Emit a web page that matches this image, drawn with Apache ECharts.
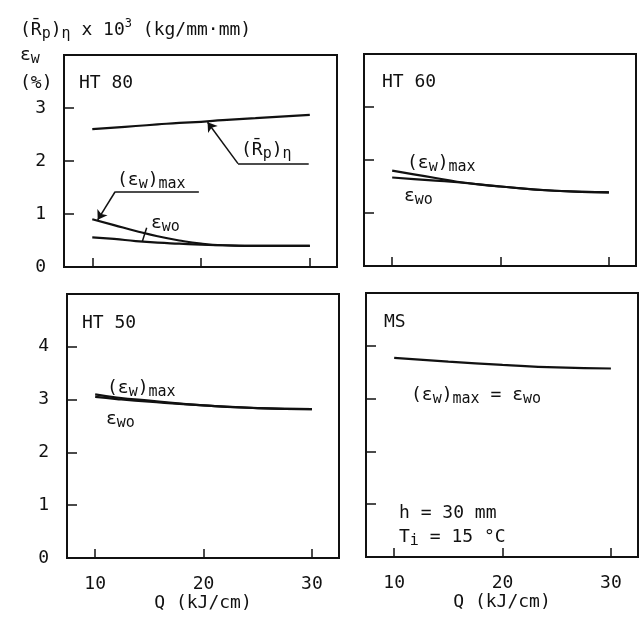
<!DOCTYPE html>
<html><head><meta charset="utf-8">
<script src="https://cdn.jsdelivr.net/npm/echarts@6/dist/echarts.min.js"></script>
<style>html,body{margin:0;padding:0;background:#fff}#c{width:644px;height:619px}</style>
</head><body><div id="c"></div>
<script>
// ---- data (Q in kJ/cm) ----
const qHT80 = [10, 12, 14, 16, 18, 20, 22, 25, 30];
const ht80Rp  = [2.60, 2.63, 2.66, 2.69, 2.72, 2.74, 2.77, 2.81, 2.87];
const ht80Max = [0.90, 0.79, 0.68, 0.58, 0.50, 0.44, 0.41, 0.40, 0.40];
const ht80Wo  = [0.56, 0.53, 0.49, 0.46, 0.44, 0.42, 0.41, 0.40, 0.40];

const qHT60 = [10, 12, 14, 16, 20, 25, 30];
const ht60Max = [1.80, 1.73, 1.66, 1.59, 1.50, 1.42, 1.39];
const ht60Wo  = [1.67, 1.64, 1.61, 1.58, 1.50, 1.42, 1.39];

const qHT50 = [10, 12, 15, 20, 25, 30];
const ht50Max = [3.10, 3.04, 2.98, 2.89, 2.84, 2.82];
const ht50Wo  = [3.05, 3.01, 2.96, 2.89, 2.84, 2.82];

const qMS = [10, 15, 20, 25, 30];
const msVal = [3.77, 3.70, 3.64, 3.59, 3.57];

const xTicks = [10, 20, 30];
const yTicksTop = [1, 2, 3];
const yLabelsTop = [0, 1, 2, 3];
const yTicksBottom = [1, 2, 3, 4];
const yLabelsBottom = [0, 1, 2, 3, 4];

// ---- styling ----
const F = '"DejaVu Sans Mono", monospace';
const INK = '#111';
const rich = {
  n: {fontSize: 18, fontFamily: F, lineHeight: 24, color: INK},
  s: {fontSize: 15, fontFamily: F, lineHeight: 15, color: INK, verticalAlign: 'bottom'},
  u: {fontSize: 12, fontFamily: F, lineHeight: 12, color: INK, verticalAlign: 'top'}
};
const pair = (xs, ys) => xs.map((x, i) => [x, ys[i]]);

function xAx(gi, labels) {
  return {
    type: 'value', gridIndex: gi, min: 7.4, max: 32.5,
    axisLine: {show: false}, splitLine: {show: false},
    axisTick: {show: true, inside: true, length: 9, customValues: xTicks, lineStyle: {color: INK, width: 1.5}},
    axisLabel: {show: labels, customValues: xTicks, margin: 17, fontSize: 18, fontFamily: F, color: INK},
    name: labels ? 'Q (kJ/cm)' : '', nameLocation: 'middle', nameGap: 36,
    nameTextStyle: {fontSize: 18, fontFamily: F, color: INK}
  };
}
function yAx(gi, max, ticks, labels) {
  return {
    type: 'value', gridIndex: gi, min: 0, max: max,
    axisLine: {show: false}, splitLine: {show: false},
    axisTick: {show: true, inside: true, length: 10, customValues: ticks, lineStyle: {color: INK, width: 1.5}},
    axisLabel: {show: !!labels, customValues: labels || [], margin: 18, fontSize: 18, fontFamily: F, color: INK}
  };
}
const line = (xi, data, name, extra) => Object.assign({
  type: 'line', name: name, xAxisIndex: xi, yAxisIndex: xi, data: data,
  smooth: true, showSymbol: false, symbol: 'none', silent: true,
  lineStyle: {color: INK, width: 2.2}
}, extra || {});

const gridBase = {show: true, borderColor: INK, borderWidth: 2, backgroundColor: 'transparent'};

const arrowLines = {
  silent: true, label: {show: false}, symbolSize: 9,
  lineStyle: {color: INK, width: 1.5, type: 'solid'},
  data: [
    [{coord: [29.9, 1.95], symbol: 'none'}, {coord: [23.4, 1.95], symbol: 'none'}],
    [{coord: [23.4, 1.95], symbol: 'none'}, {coord: [20.6, 2.73], symbol: 'arrow'}],
    [{coord: [19.8, 1.42], symbol: 'none'}, {coord: [12.1, 1.42], symbol: 'none'}],
    [{coord: [12.1, 1.42], symbol: 'none'}, {coord: [10.5, 0.89], symbol: 'arrow'}],
    [{coord: [15.0, 0.74], symbol: 'none'}, {coord: [14.6, 0.48], symbol: 'none'}]
  ]
};

function txt(x, y, text) {
  return {type: 'text', x: x, y: y, silent: true,
    style: {text: text, rich: rich, textVerticalAlign: 'middle', fill: INK}};
}

const option = {
  backgroundColor: '#fff',
  animation: false,
  grid: [
    Object.assign({left: 64, top: 55, width: 273, height: 212}, gridBase),
    Object.assign({left: 364, top: 54, width: 272, height: 212}, gridBase),
    Object.assign({left: 67, top: 294, width: 272, height: 264}, gridBase),
    Object.assign({left: 366, top: 293, width: 272, height: 264}, gridBase)
  ],
  xAxis: [xAx(0, false), xAx(1, false), xAx(2, true), xAx(3, true)],
  yAxis: [
    yAx(0, 4, yTicksTop, yLabelsTop),
    yAx(1, 4, yTicksTop, null),
    yAx(2, 5, yTicksBottom, yLabelsBottom),
    yAx(3, 5, yTicksBottom, null)
  ],
  series: [
    line(0, pair(qHT80, ht80Rp), 'HT 80 (Rp)η', {markLine: arrowLines}),
    line(0, pair(qHT80, ht80Max), 'HT 80 (εw)max'),
    line(0, pair(qHT80, ht80Wo), 'HT 80 εwo'),
    line(1, pair(qHT60, ht60Max), 'HT 60 (εw)max'),
    line(1, pair(qHT60, ht60Wo), 'HT 60 εwo'),
    line(2, pair(qHT50, ht50Max), 'HT 50 (εw)max'),
    line(2, pair(qHT50, ht50Wo), 'HT 50 εwo'),
    line(3, pair(qMS, msVal), 'MS (εw)max = εwo')
  ],
  graphic: [
    txt(20, 30, '{n|(R\u0304}{s|p}{n|)}{s|η}{n| x 10}{u|3}{n| (kg/mm·mm)}'),
    txt(20, 55, '{n|ε}{s|w}'),
    txt(20, 83, '{n|(%)}'),
    txt(79, 83, '{n|HT 80}'),
    txt(241, 150, '{n|(R\u0304}{s|p}{n|)}{s|η}'),
    txt(117, 180, '{n|(ε}{s|w}{n|)}{s|max}'),
    txt(151, 223, '{n|ε}{s|wo}'),
    txt(382, 82, '{n|HT 60}'),
    txt(407, 163, '{n|(ε}{s|w}{n|)}{s|max}'),
    txt(404, 196, '{n|ε}{s|wo}'),
    txt(82, 323, '{n|HT 50}'),
    txt(107, 388, '{n|(ε}{s|w}{n|)}{s|max}'),
    txt(106, 419, '{n|ε}{s|wo}'),
    txt(384, 322, '{n|MS}'),
    txt(411, 395, '{n|(ε}{s|w}{n|)}{s|max}{n| = ε}{s|wo}'),
    txt(399, 513, '{n|h = 30 mm}'),
    txt(399, 537, '{n|T}{s|i}{n| = 15 °C}')
  ]
};
const chart = echarts.init(document.getElementById('c'), null, {renderer: 'canvas'});
chart.setOption(option);
</script>
</body></html>
